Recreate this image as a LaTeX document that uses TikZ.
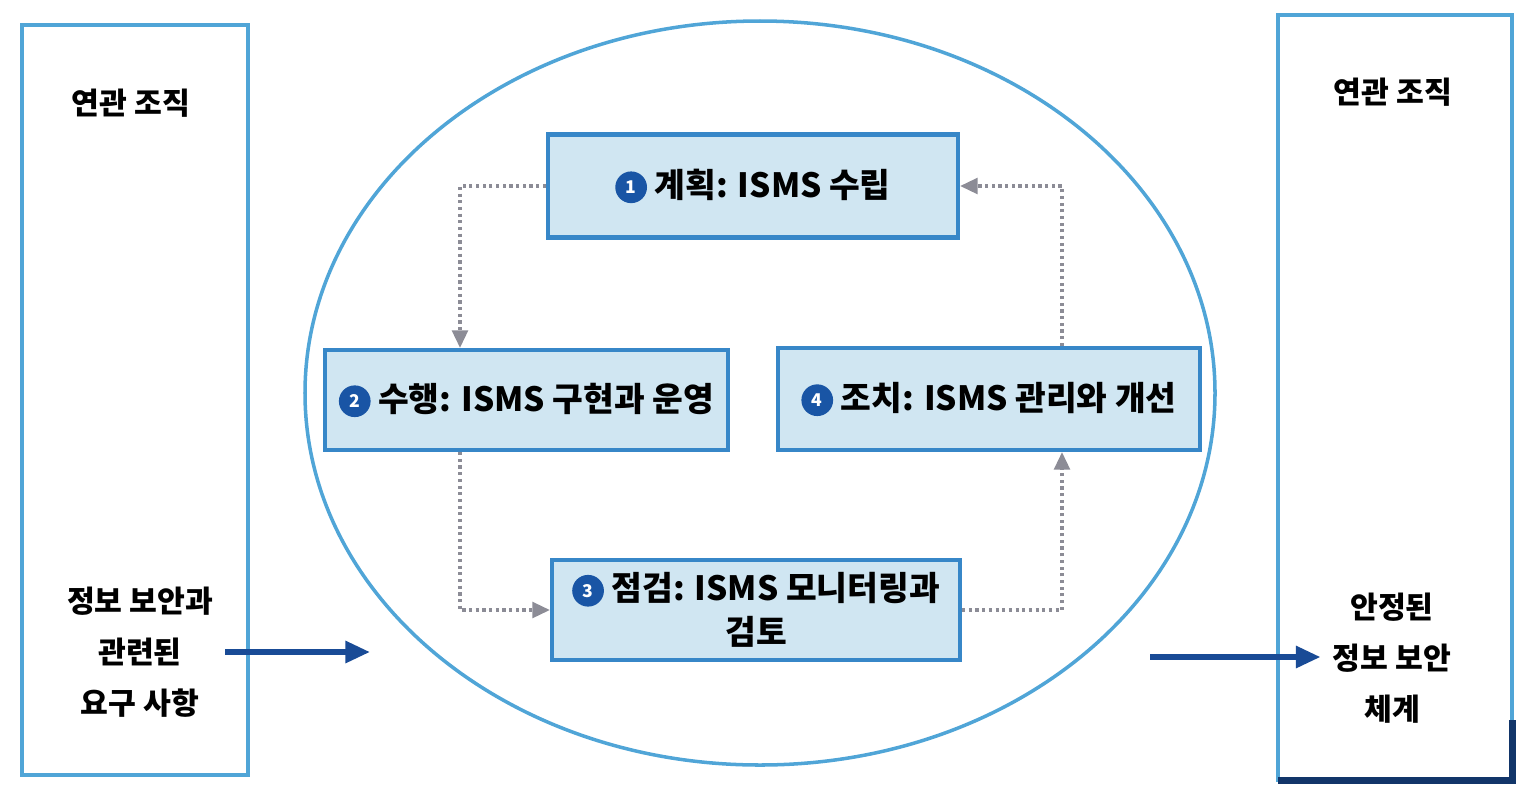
\documentclass[tikz,border=0pt]{standalone}
\usepackage{fontspec}
\setmainfont{Noto Sans CJK KR}
\usetikzlibrary{arrows.meta}

\definecolor{lineblue}{RGB}{80,165,215}
\definecolor{boxfill}{RGB}{208,230,242}
\definecolor{boxline}{RGB}{55,135,200}
\definecolor{numblue}{RGB}{25,85,165}
\definecolor{arrowblue}{RGB}{25,75,150}
\definecolor{dotgray}{RGB}{140,140,150}

\newcommand{\stepnum}[1]{\tikz[baseline=-0.55ex]\node[circle,fill=numblue,text=white,inner sep=0pt,minimum size=0.95em,font=\fontsize{5}{5}\selectfont]{#1};}

\tikzset{
  phase/.style={draw=boxline,fill=boxfill,line width=1.2pt,align=center,
    font=\fontsize{9.5}{12.5}\selectfont\bfseries,inner sep=2pt},
  sidetext/.style={align=center,font=\fontsize{8.6}{14.5}\selectfont\bfseries},
  cyc/.style={densely dotted,draw=dotgray,line width=0.9pt,-{Triangle[length=5pt,width=4.5pt]}},
  flow/.style={draw=arrowblue,line width=1.6pt,-{Triangle[length=7pt,width=6pt]}}
}

\begin{document}
\begin{tikzpicture}
  \useasboundingbox (0,0) rectangle (15.3,-7.96);

  %% outer organisations
  \draw[lineblue,line width=1pt] (0.22,-0.25) rectangle (2.48,-7.75);
  \draw[lineblue,line width=1pt] (12.78,-0.15) rectangle (15.12,-7.8);
  \draw[arrowblue!70!black,line width=2pt] (12.78,-7.8) -- (15.12,-7.8) -- (15.12,-7.2);

  %% ISMS cycle
  \draw[lineblue,line width=1pt] (7.6,-3.93) ellipse (4.55cm and 3.72cm);

  %% phases
  \node[phase,minimum width=4.1cm,minimum height=1.03cm] (plan) at (7.53,-1.86) {\stepnum{1} 계획: ISMS 수립};
  \node[phase,minimum width=4.03cm,minimum height=1.0cm] (do) at (5.265,-4.0) {\stepnum{2} 수행: ISMS 구현과 운영};
  \node[phase,minimum width=4.22cm,minimum height=1.02cm] (act) at (9.89,-3.99) {\stepnum{4} 조치: ISMS 관리와 개선};
  \node[phase,minimum width=4.08cm,minimum height=1.0cm] (check) at (7.56,-6.1) {\stepnum{3} 점검: ISMS 모니터링과\\검토};

  %% cycle arrows
  \draw[cyc] (plan.west) -| (do.north -| 4.6,0);
  \draw[cyc] (do.south -| 4.6,0) |- (check.west);
  \draw[cyc] (check.east) -| (act.south -| 10.62,0);
  \draw[cyc] (act.north -| 10.62,0) |- (plan.east);

  %% labels
  \node[sidetext] (orgL) at (1.31,-1.03) {연관 조직};
  \node[sidetext] (orgR) at (13.93,-0.92) {연관 조직};
  \node[sidetext] (req) at (1.4,-6.52) {정보 보안과\\관련된\\요구 사항};
  \node[sidetext] (sys) at (13.92,-6.58) {안정된\\정보 보안\\체계};

  %% in and out
  \coordinate (inEnd) at (3.7,-6.52);
  \coordinate (outStart) at (11.5,-6.57);
  \draw[flow] (req.east |- inEnd) ++(0.0,0) -- (inEnd);
  \draw[flow] (outStart) -- (sys.west |- outStart);
\end{tikzpicture}
\end{document}
